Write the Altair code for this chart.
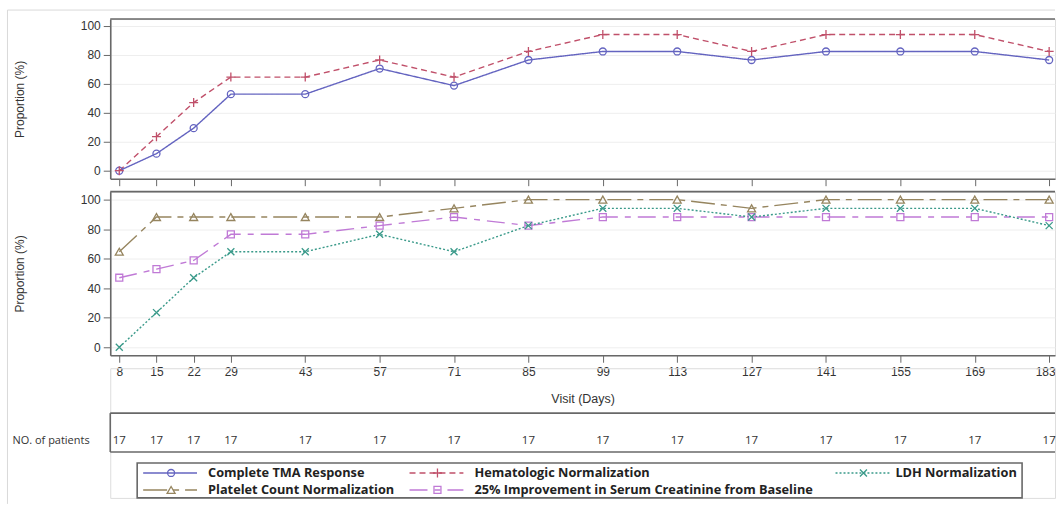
import altair as alt
import pandas as pd

# ---------------- data ----------------
visits = [8, 15, 22, 29, 43, 57, 71, 85, 99, 113, 127, 141, 155, 169, 183]
tma_response = [0, 11.8, 29.4, 52.9, 52.9, 70.6, 58.8, 76.5, 82.4, 82.4, 76.5, 82.4, 82.4, 82.4, 76.5]
hema_norm = [0, 23.5, 47.1, 64.7, 64.7, 76.5, 64.7, 82.4, 94.1, 94.1, 82.4, 94.1, 94.1, 94.1, 82.4]
platelet_norm = [64.7, 88.2, 88.2, 88.2, 88.2, 88.2, 94.1, 100, 100, 100, 94.1, 100, 100, 100, 100]
creat_improve = [47.1, 52.9, 58.8, 76.5, 76.5, 82.4, 88.2, 82.4, 88.2, 88.2, 88.2, 88.2, 88.2, 88.2, 88.2]
ldh_norm = [0, 23.5, 47.1, 64.7, 64.7, 76.5, 64.7, 82.4, 94.1, 94.1, 88.2, 94.1, 94.1, 94.1, 82.4]
n_patients = [17, 17, 17, 17, 17, 17, 17, 17, 17, 17, 17, 17, 17, 17, 17]
y_ticks = [0, 20, 40, 60, 80, 100]

S_TMA = "Complete TMA Response"
S_HEMA = "Hematologic Normalization"
S_LDH = "LDH Normalization"
S_PLT = "Platelet Count Normalization"
S_CREAT = "25% Improvement in Serum Creatinine from Baseline"

# ---------------- styles ----------------
FONT = "Open Sans"
FRAME = "#686868"
FW = 1.6
W = 947

style = {
    S_TMA:   dict(color="#6464c0", dash=[1, 0], shape="circle", size=49),
    S_HEMA:  dict(color="#c0506a", dash=[6, 4], shape="M-1,0L1,0M0,-1L0,1", size=81),
    S_LDH:   dict(color="#3a9a8a", dash=[2, 2], shape="M-1,-1L1,1M-1,1L1,-1", size=49),
    S_PLT:   dict(color="#96855f", dash=[24, 6, 6, 6], shape="triangle-up", size=64),
    S_CREAT: dict(color="#c07ad6", dash=[18, 7, 6, 7], shape="square", size=49),
}

xscale = alt.Scale(domain=[6.3, 184.1], nice=False, zero=False)
dummy = pd.DataFrame({"d": [0]})


def hrule(y, x0=0, x1=W, color=FRAME, width=FW):
    return alt.Chart(dummy).mark_rule(color=color, strokeWidth=width).encode(
        x=alt.value(x0), x2=alt.value(x1), y=alt.value(y))


def vrule(x, y0, y1, color=FRAME, width=FW):
    return alt.Chart(dummy).mark_rule(color=color, strokeWidth=width).encode(
        x=alt.value(x), y=alt.value(y0), y2=alt.value(y1))


def panel(series, ydomain, height, show_labels, extra=()):
    xaxis = alt.Axis(values=visits, labels=show_labels, ticks=True, tickSize=7,
                     tickColor=FRAME, domain=True, domainColor=FRAME, domainWidth=FW,
                     grid=False, labelFontSize=12, labelColor="#333", labelPadding=4,
                     labelFlush=7, labelFlushOffset=6,
                     title="Visit (Days)" if show_labels else None,
                     titleFontSize=12.5, titleColor="#333", titleFontWeight="normal",
                     titlePadding=15)
    yaxis = alt.Axis(values=y_ticks, grid=True, gridColor="#eeeeee", tickSize=7,
                     tickColor=FRAME, domain=True, domainColor=FRAME, domainWidth=FW,
                     labelFontSize=12, labelColor="#333", labelPadding=3,
                     title="Proportion (%)", titleFontSize=12, titleColor="#333",
                     titleFontWeight="normal", titleX=-84, titleY=height / 2,
                     titleAngle=270, titleBaseline="bottom")
    x = alt.X("visit:Q", scale=xscale, axis=xaxis)
    y = alt.Y("value:Q", scale=alt.Scale(domain=ydomain, nice=False, zero=False), axis=yaxis)
    line_layers, point_layers = [], []
    for name, vals in series:
        st = style[name]
        df = pd.DataFrame({"visit": visits, "value": vals})
        line_layers.append(
            alt.Chart(df).mark_line(strokeWidth=1.4, color=st["color"],
                                    strokeDash=st["dash"]).encode(x=x, y=y))
        point_layers.append(
            alt.Chart(df).mark_point(filled=False, strokeWidth=1.3, shape=st["shape"],
                                     size=st["size"], color=st["color"],
                                     opacity=1).encode(x=x, y=y))
    layers = list(extra) + line_layers + point_layers + [hrule(0)]
    return alt.layer(*layers).properties(width=W, height=height)


# faint outer picture border (top and left edges of the original image)
border = [hrule(-9, -103, W, color="#d9d9d9", width=1),
          vrule(-103, -9, 486, color="#d9d9d9", width=1)]

top = panel([(S_TMA, tma_response), (S_HEMA, hema_norm)], [-5.5, 104.8], 160, False, border)
bottom = panel([(S_PLT, platelet_norm), (S_CREAT, creat_improve), (S_LDH, ldh_norm)],
               [-5.4, 105.4], 164, True)

# ---------------- lower panel: patients row + legend ----------------
LOWER_H = 130
pat_df = pd.DataFrame({"visit": visits, "n": n_patients})
pat_text = alt.Chart(pat_df).mark_text(font=FONT, fontSize=11.5, color="#333",
                                       baseline="middle", align="center").encode(
    x=alt.X("visit:Q", scale=xscale, axis=None),
    y=alt.value(73),
    text="n:Q",
)
pat_label = alt.Chart(dummy).mark_text(font=FONT, fontSize=11, color="#333",
                                       baseline="middle", align="left",
                                       text="NO. of patients").encode(
    x=alt.value(-98), y=alt.value(73))

lower_layers = [pat_text, pat_label, hrule(45), hrule(84), vrule(0, 45, 84)]

# legend box
LB_TOP, LB_BOT, LB_L, LB_R = 95, 130, 27, 914
lower_layers.append(
    alt.Chart(dummy).mark_rect(fill=None, stroke=FRAME, strokeWidth=FW).encode(
        x=alt.value(LB_L), x2=alt.value(LB_R), y=alt.value(LB_TOP), y2=alt.value(LB_BOT))
)
# (series, symbol start, text start, row y) in panel pixels
legend_items = [
    (S_TMA, 33, 98, 105), (S_HEMA, 300, 365, 105), (S_LDH, 727, 787, 105),
    (S_PLT, 33, 98, 122), (S_CREAT, 300, 365, 122),
]
for name, lx, tx, ly in legend_items:
    st = style[name]
    lower_layers.append(
        alt.Chart(dummy).mark_rule(color=st["color"], strokeWidth=1.4,
                                   strokeDash=st["dash"]).encode(
            x=alt.value(lx), x2=alt.value(lx + 54), y=alt.value(ly)))
    lower_layers.append(
        alt.Chart(dummy).mark_point(filled=False, strokeWidth=1.3, shape=st["shape"],
                                    size=st["size"], color=st["color"], opacity=1).encode(
            x=alt.value(lx + 28), y=alt.value(ly)))
    lower_layers.append(
        alt.Chart(dummy).mark_text(font=FONT, fontSize=12.8, fontWeight="bold", color="#222",
                                   align="left", baseline="middle", text=name).encode(
            x=alt.value(tx), y=alt.value(ly)))

lower = alt.layer(*lower_layers).properties(width=W, height=LOWER_H)

chart = alt.vconcat(top, bottom, lower, spacing=13, bounds="flush").properties(
    padding={"left": 6.5, "top": 8.5, "right": 0, "bottom": 0}
).configure_view(stroke=None).configure_axis(
    labelFont=FONT, titleFont=FONT
).configure(background="white")

chart.save("out.html", embed_options={"renderer": "svg", "actions": False})
